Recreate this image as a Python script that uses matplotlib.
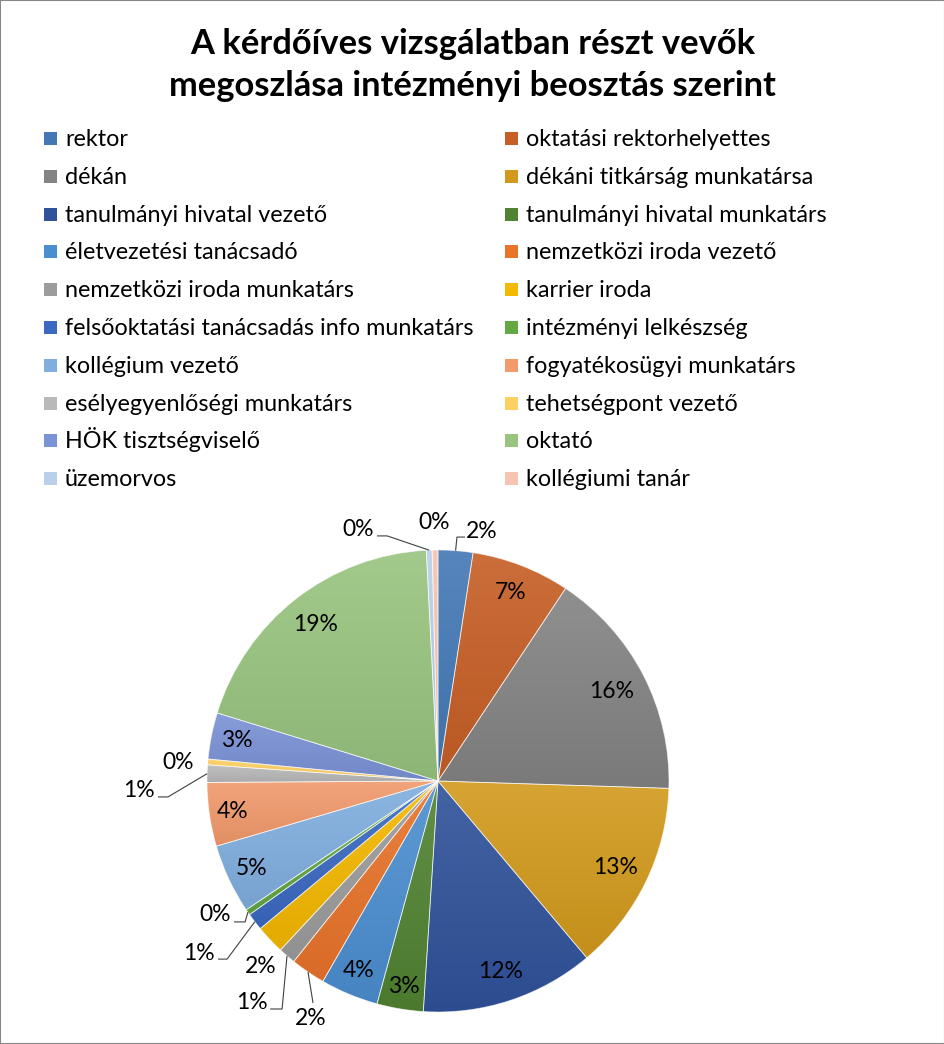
import numpy as np
import matplotlib
matplotlib.use("Agg")
import matplotlib.pyplot as plt
from matplotlib.patches import Rectangle
from matplotlib.colors import LinearSegmentedColormap, to_rgb

plt.rcParams['font.family'] = ['Lato', 'DejaVu Sans']

# ---------------- data ----------------
title = "A kérdőíves vizsgálatban részt vevők\nmegoszlása intézményi beosztás szerint"
categories = [
    "rektor", "oktatási rektorhelyettes", "dékán", "dékáni titkárság munkatársa",
    "tanulmányi hivatal vezető", "tanulmányi hivatal munkatárs", "életvezetési tanácsadó",
    "nemzetközi iroda vezető", "nemzetközi iroda munkatárs", "karrier iroda",
    "felsőoktatási tanácsadás info munkatárs", "intézményi lelkészség", "kollégium vezető",
    "fogyatékosügyi munkatárs", "esélyegyenlőségi munkatárs", "tehetségpont vezető",
    "HÖK tisztségviselő", "oktató", "üzemorvos", "kollégiumi tanár",
]
counts = [6, 17, 40, 33, 30, 8, 10, 6, 3, 5, 3, 1, 12, 11, 3, 1, 8, 48, 1, 1]
colors = [
    "#4378B5", "#C65E25", "#838383", "#D29A1C", "#2F529A", "#508332", "#4B8ED0",
    "#E8732A", "#9C9C9C", "#F4B800", "#3B69C1", "#63A842", "#80AEDF", "#F29A6C",
    "#B9B9B9", "#FDD061", "#7A92D6", "#98C47F", "#B9D0EA", "#F6C4B0",
]

# ---------------- layout ----------------
W, H = 945, 1044
cx, cy, R = 438, 781, 231
# radial distance of the inside labels (None -> outside label)
inside_r = [None, 0.875, 0.845, 0.855, 0.87, 0.90, 0.89, None, None, None,
            None, None, 0.89, 0.90, None, None, 0.89, 0.86, None, None]
# outside labels: text position and leader (start, elbow) in pie-radius units
outside = {
    0: ((0.19, 1.078), [(0.117, 1.056), (0.082, 1.056)]),
    7: ((-0.55, -1.026), [(-0.541, -0.961)]),
    8: ((-0.805, -0.961), [(-0.727, -0.987), (-0.675, -0.987)]),
    9: ((-0.766, -0.805), None),
    10: ((-1.035, -0.745), [(-0.952, -0.771), (-0.913, -0.771)]),
    11: ((-0.965, -0.58), [(-0.883, -0.61), (-0.835, -0.61)]),
    14: ((-1.294, -0.039), [(-1.212, -0.069), (-1.169, -0.069)]),
    15: ((-1.126, 0.078), None),
    18: ((-0.346, 1.087), [(-0.264, 1.061), (-0.22, 1.061)]),
    19: ((-0.017, 1.121), None),
}
LBL_FS = 16.5
LEG_FS = 16.8
leg_col_x = [44, 505]      # marker left edge, px
leg_row0_base = 146        # baseline of first legend row, px
leg_pitch = 37.8           # row pitch, px
leg_box = 13               # marker size, px
leg_text_dx = 21           # marker left -> text left, px

fig = plt.figure(figsize=(W / 100, H / 100), dpi=100)
fig.patch.set_facecolor("white")
fig.patches.append(Rectangle((0, 0), 1, 1, transform=fig.transFigure, fill=False,
                             edgecolor="#878787", linewidth=1.5))

fig.text(0.5, 1 - 65 / H, title, ha="center", va="center", fontsize=24.8,
         fontweight="bold", color="black", linespacing=1.36)

ax = fig.add_axes([(cx - R) / W, (H - cy - R) / H, 2 * R / W, 2 * R / H])
wedges, _ = ax.pie(counts, colors=colors, startangle=90, counterclock=False,
                   radius=1, wedgeprops=dict(edgecolor=(1, 1, 1, 0.6), linewidth=0.6))


def shade(c, f):
    r, g, b = to_rgb(c)
    if f >= 1:
        return tuple(x + (1 - x) * (f - 1) for x in (r, g, b))
    return tuple(x * f for x in (r, g, b))


grad = np.linspace(0, 1, 256).reshape(-1, 1)
for w, c in zip(wedges, colors):
    ext = w.get_path().get_extents()
    cmap = LinearSegmentedColormap.from_list("g", [shade(c, 1.10), shade(c, 0.93)])
    im = ax.imshow(grad, extent=[ext.x0, ext.x1, ext.y0, ext.y1], cmap=cmap,
                   origin="upper", aspect="auto", zorder=1, interpolation="bilinear")
    im.set_clip_path(w)
    w.set_facecolor("none")
    w.set_zorder(2)

total = sum(counts)
for i, w in enumerate(wedges):
    pct = counts[i] / total * 100
    lab = f"{pct:.0f}%"
    mid = np.deg2rad((w.theta1 + w.theta2) / 2)
    ex, ey = np.cos(mid), np.sin(mid)
    if inside_r[i] is not None:
        r = inside_r[i]
        ax.text(r * ex, r * ey, lab, ha="center", va="center", fontsize=LBL_FS,
                color="black", zorder=5)
    else:
        (tx, ty), lead = outside[i]
        ax.text(tx, ty, lab, ha="center", va="center", fontsize=LBL_FS,
                color="black", zorder=5)
        if lead:
            pts = lead + [(ex, ey)]
            ax.plot([p[0] for p in pts], [p[1] for p in pts], color="#404040",
                    lw=0.8, zorder=4, solid_capstyle="butt", clip_on=False)

ax.set_xlim(-1, 1)
ax.set_ylim(-1, 1)
ax.set_aspect("equal")
ax.axis("off")

# legend: two columns, filled row by row
for k, (name, c) in enumerate(zip(categories, colors)):
    row, col = divmod(k, 2)
    base = leg_row0_base + row * leg_pitch
    x0 = leg_col_x[col]
    ytop = base - 1 - leg_box
    fig.patches.append(Rectangle((x0 / W, 1 - (ytop + leg_box) / H), leg_box / W,
                                 leg_box / H, transform=fig.transFigure,
                                 facecolor=c, edgecolor="none"))
    fig.text((x0 + leg_text_dx) / W, 1 - base / H, name, ha="left", va="baseline",
             fontsize=LEG_FS, color="black")

fig.savefig("out.png", dpi=100, facecolor="white")
